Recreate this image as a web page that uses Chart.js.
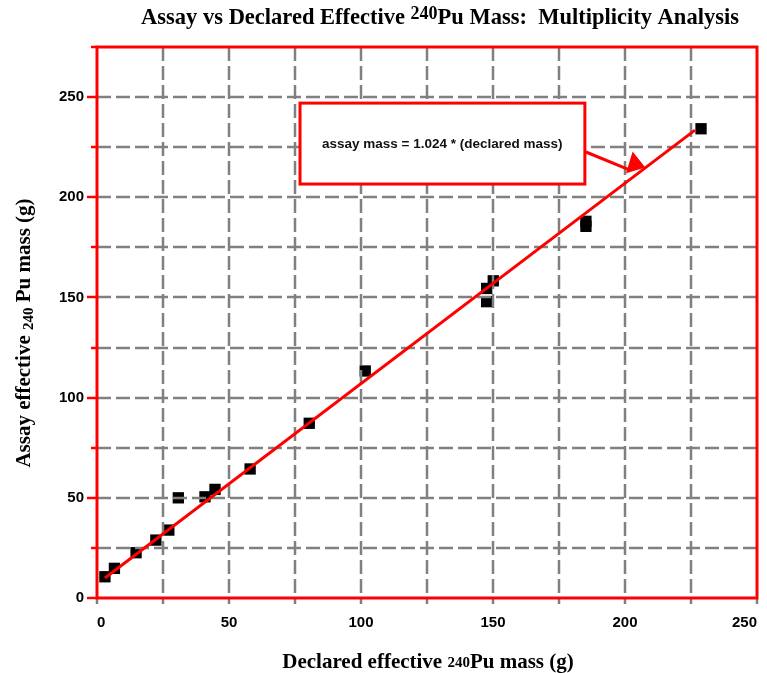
<!DOCTYPE html>
<html><head><meta charset="utf-8">
<script src="https://cdn.jsdelivr.net/npm/chart.js@4.4.1/dist/chart.umd.min.js"></script>
<style>html,body{margin:0;padding:0;background:#fff}</style>
</head><body>
<canvas id="c" width="767" height="673" style="width:767px;height:673px;display:block"></canvas>
<script>
// ---- data ----
const declaredMass = [3.0, 6.6, 14.8, 22.3, 27.2, 30.8, 40.9, 44.7, 58.0, 80.4, 101.6, 147.6, 147.6, 150.1, 185.2, 185.2, 228.8];
const assayMass    = [10.6, 14.8, 22.6, 28.9, 33.9, 50.0, 50.5, 54.2, 64.4, 87.2, 113.3, 154.5, 147.9, 158.3, 188.0, 185.5, 234.2];
const fitDeclared  = [3.0, 226.5];
const fitAssay     = [10.0, 233.5];
const xTickLabels  = [0, 50, 100, 150, 200, 250];
const yTickLabels  = [0, 50, 100, 150, 200, 250];
const fitLabel     = 'assay mass = 1.024 * (declared mass)';

// annotation placement (data units)
const labelBox   = {x0: 76.9, x1: 184.8, y0: 206.6, y1: 247.0, tx: 130.8, ty: 226.5};
const arrowLine  = {x0: 185.2, y0: 222.6, x1: 201.9, y1: 213.6};
const arrowHead  = [[203.0, 222.0], [200.8, 212.6], [207.2, 215.1]];

const RED = '#ff0000', GRID = '#808080';

function drawGrid(chart) {
  const {ctx, chartArea: a, scales: {x, y}} = chart;
  ctx.save();
  ctx.strokeStyle = GRID; ctx.lineWidth = 2.5; ctx.setLineDash([14, 5]);
  for (let v = 25; v < 250; v += 25) {
    const px = Math.round(x.getPixelForValue(v));
    ctx.beginPath(); ctx.moveTo(px, a.top); ctx.lineTo(px, a.bottom); ctx.stroke();
  }
  for (let v = 25; v < 275; v += 25) {
    const py = Math.round(y.getPixelForValue(v));
    ctx.beginPath(); ctx.moveTo(a.left, py); ctx.lineTo(a.right, py); ctx.stroke();
  }
  ctx.restore();
}

function drawDecor(chart) {
  const {ctx, chartArea: a, scales: {x, y}} = chart;
  ctx.save();
  // label box
  const bx0 = x.getPixelForValue(labelBox.x0), bx1 = x.getPixelForValue(labelBox.x1);
  const by0 = y.getPixelForValue(labelBox.y1), by1 = y.getPixelForValue(labelBox.y0);
  ctx.fillStyle = '#fff'; ctx.fillRect(bx0, by0, bx1 - bx0, by1 - by0);
  ctx.strokeStyle = RED; ctx.lineWidth = 3; ctx.strokeRect(bx0, by0, bx1 - bx0, by1 - by0);
  ctx.fillStyle = '#111'; ctx.font = 'bold 13.5px "Liberation Sans", Arial, sans-serif';
  ctx.textAlign = 'center'; ctx.textBaseline = 'middle';
  ctx.fillText(fitLabel, x.getPixelForValue(labelBox.tx), y.getPixelForValue(labelBox.ty));
  // arrow
  ctx.beginPath();
  ctx.moveTo(x.getPixelForValue(arrowLine.x0), y.getPixelForValue(arrowLine.y0));
  ctx.lineTo(x.getPixelForValue(arrowLine.x1), y.getPixelForValue(arrowLine.y1));
  ctx.stroke();
  ctx.fillStyle = RED; ctx.beginPath();
  arrowHead.forEach((p, i) => {
    const px = x.getPixelForValue(p[0]), py = y.getPixelForValue(p[1]);
    i ? ctx.lineTo(px, py) : ctx.moveTo(px, py);
  });
  ctx.closePath(); ctx.fill();
  ctx.lineWidth = 1.5; ctx.stroke();
  // x ticks (gray, below axis)
  ctx.strokeStyle = GRID; ctx.lineWidth = 2.5;
  for (let v = 0; v <= 250; v += 25) {
    const px = Math.round(x.getPixelForValue(v));
    ctx.beginPath(); ctx.moveTo(px, a.bottom); ctx.lineTo(px, a.bottom + 6); ctx.stroke();
  }
  // y ticks (red, outside)
  ctx.strokeStyle = RED; ctx.lineWidth = 2.5;
  for (let v = 0; v <= 275; v += 25) {
    const py = Math.round(y.getPixelForValue(v));
    const len = v % 50 === 0 ? 10 : 6;
    ctx.beginPath(); ctx.moveTo(a.left - len, py); ctx.lineTo(a.left, py); ctx.stroke();
  }
  // plot border
  ctx.strokeStyle = RED; ctx.lineWidth = 3;
  ctx.strokeRect(a.left, a.top, a.right - a.left, a.bottom - a.top);
  ctx.restore();
}

function drawRich(ctx, parts, cx, baseline) {
  let w = 0;
  parts.forEach(p => { ctx.font = p.font; w += ctx.measureText(p.t).width; });
  let xx = cx - w / 2;
  parts.forEach(p => {
    ctx.font = p.font;
    ctx.fillText(p.t, xx, baseline + (p.dy || 0));
    xx += ctx.measureText(p.t).width;
  });
}

function drawTitles(chart) {
  const ctx = chart.ctx;
  const SERIF = '"Liberation Serif", "Times New Roman", serif';
  const big = 'bold 22.5px ' + SERIF, axis = 'bold 21px ' + SERIF, small = 'bold 15px ' + SERIF;
  ctx.save();
  ctx.fillStyle = '#000'; ctx.textAlign = 'left'; ctx.textBaseline = 'alphabetic';
  drawRich(ctx, [
    {t: 'Assay vs Declared Effective ', font: big},
    {t: '240', font: 'bold 18px ' + SERIF, dy: -5},
    {t: 'Pu Mass:  Multiplicity Analysis', font: big}
  ], 440, 24);
  drawRich(ctx, [
    {t: 'Declared effective ', font: axis},
    {t: '240', font: small, dy: -1},
    {t: 'Pu mass (g)', font: axis}
  ], 428, 668);
  ctx.translate(30, 333);
  ctx.rotate(-Math.PI / 2);
  drawRich(ctx, [
    {t: 'Assay effective ', font: axis},
    {t: '240', font: small, dy: 3},
    {t: ' Pu mass (g)', font: axis}
  ], 0, 0);
  ctx.restore();
}

const decorPlugin = {
  id: 'decor',
  afterDatasetDraw(chart, args) { if (args.index === 1) drawGrid(chart); },
  afterDatasetsDraw(chart) { drawDecor(chart); },
  afterDraw(chart) { drawTitles(chart); }
};

const tickFont = {family: '"Liberation Sans", Arial, sans-serif', size: 15, weight: 'bold'};

new Chart(document.getElementById('c'), {
  type: 'scatter',
  data: {
    datasets: [
      {
        label: 'fit', type: 'line',
        data: fitDeclared.map((v, i) => ({x: v, y: fitAssay[i]})),
        borderColor: RED, borderWidth: 3, pointRadius: 0, fill: false, order: 1
      },
      {
        label: 'data',
        data: declaredMass.map((v, i) => ({x: v, y: assayMass[i]})),
        pointStyle: 'rect', pointRadius: 8, backgroundColor: '#000', borderWidth: 0, order: 2
      }
    ]
  },
  options: {
    responsive: false, animation: false, devicePixelRatio: 1,
    layout: {padding: {top: 47, right: 10, left: 0, bottom: 0}},
    plugins: {legend: {display: false}, tooltip: {enabled: false}, title: {display: false}},
    scales: {
      x: {
        type: 'linear', min: 0, max: 250,
        grid: {display: false, drawTicks: false}, border: {display: false},
        ticks: {font: tickFont, color: '#000', padding: 16, maxRotation: 0, align: 'inner'},
        afterBuildTicks: s => { s.ticks = xTickLabels.map(v => ({value: v})); },
        afterFit: s => { s.height = 75; s.paddingLeft = 0; s.paddingRight = 0; }
      },
      y: {
        type: 'linear', min: 0, max: 275,
        grid: {display: false, drawTicks: false}, border: {display: false},
        ticks: {font: tickFont, color: '#000', padding: 13},
        afterBuildTicks: s => { s.ticks = yTickLabels.map(v => ({value: v})); },
        afterFit: s => { s.width = 97; s.paddingTop = 0; s.paddingBottom = 0; }
      }
    }
  },
  plugins: [decorPlugin]
});
</script>
</body></html>
